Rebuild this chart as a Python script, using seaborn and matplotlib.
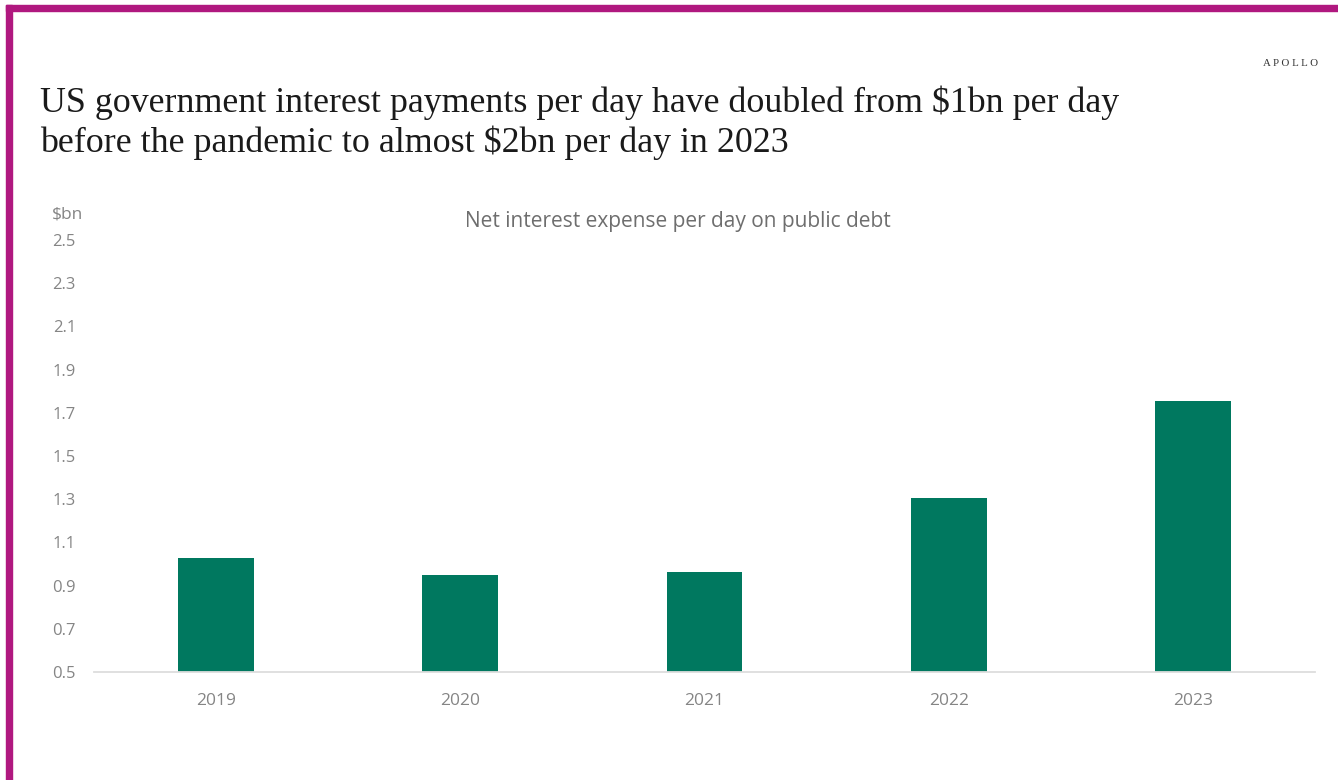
import matplotlib
matplotlib.use("Agg")
import matplotlib.pyplot as plt
from matplotlib.patches import Rectangle
from matplotlib.ticker import FixedLocator
import seaborn as sns
import pandas as pd

# Net interest expense per day on public debt, $bn
years = ["2019", "2020", "2021", "2022", "2023"]
interest_per_day = [1.03, 0.95, 0.965, 1.305, 1.755]
y_ticks = [0.5, 0.7, 0.9, 1.1, 1.3, 1.5, 1.7, 1.9, 2.1, 2.3, 2.5]

df = pd.DataFrame({"year": years, "value": interest_per_day})

sns.set_theme(style="white")
plt.rcParams["font.family"] = ["Open Sans", "DejaVu Sans"]

W, H = 1338, 780
fig = plt.figure(figsize=(W / 100, H / 100), dpi=100)
fig.patch.set_facecolor("white")

# axes placed in pixel terms
left, right, top, bottom = 94, 1315, 240, 672
ax = fig.add_axes([left / W, 1 - bottom / H, (right - left) / W, (bottom - top) / H])

green = "#00785F"
sns.barplot(data=df, x="year", y="value", color=green, width=0.31,
            saturation=1, ax=ax, edgecolor="none")

ax.set_ylim(0.5, 2.5)
ax.set_xlim(-0.5, len(years) - 0.5)
ax.set_yticks(y_ticks)
ax.set_yticklabels([f"{t:.1f}" for t in y_ticks])
ax.set_xlabel("")
ax.set_ylabel("")

grey = "#858585"
ax.tick_params(axis="y", length=0, pad=13, labelsize=12, labelcolor=grey)
ax.tick_params(axis="x", which="major", length=0, pad=15, labelsize=12.5, labelcolor=grey)
ax.xaxis.set_minor_locator(FixedLocator([i - 0.5 for i in range(len(years) + 1)]))
ax.tick_params(axis="x", which="minor", length=8, width=1, color="#dddddd", direction="out")

for s in ["top", "right", "left"]:
    ax.spines[s].set_visible(False)
ax.spines["bottom"].set_color("#dddddd")
ax.spines["bottom"].set_linewidth(1.3)
ax.grid(False)

# titles and labels
fig.text(40 / W, 1 - 112 / H, "US government interest payments per day have doubled from $1bn per day",
         family="Liberation Serif", fontsize=25.8, color="#1a1a1a", va="baseline", ha="left")
fig.text(40 / W, 1 - 152 / H, "before the pandemic to almost $2bn per day in 2023",
         family="Liberation Serif", fontsize=25.8, color="#1a1a1a", va="baseline", ha="left")
fig.text(1318 / W, 1 - 63 / H, "A P O L L O", family="Liberation Serif", fontsize=7.8,
         color="#333333", ha="right", va="center")
fig.text(678 / W, 1 - 222 / H, "Net interest expense per day on public debt",
         fontsize=15, color="#6e6e6e", ha="center", va="center")
fig.text(52 / W, 1 - 214 / H, "$bn", fontsize=12.5, color=grey, ha="left", va="center")

# frame band along top and left edges
border = "#B0187F"
fig.patches.append(Rectangle((6 / W, 1 - 11 / H), 1 - 6 / W, 6 / H,
                             transform=fig.transFigure, color=border, zorder=10))
fig.patches.append(Rectangle((6 / W, 0), 6 / W, 1 - 5 / H,
                             transform=fig.transFigure, color=border, zorder=10))

fig.savefig("out.png", dpi=100, facecolor="white")
